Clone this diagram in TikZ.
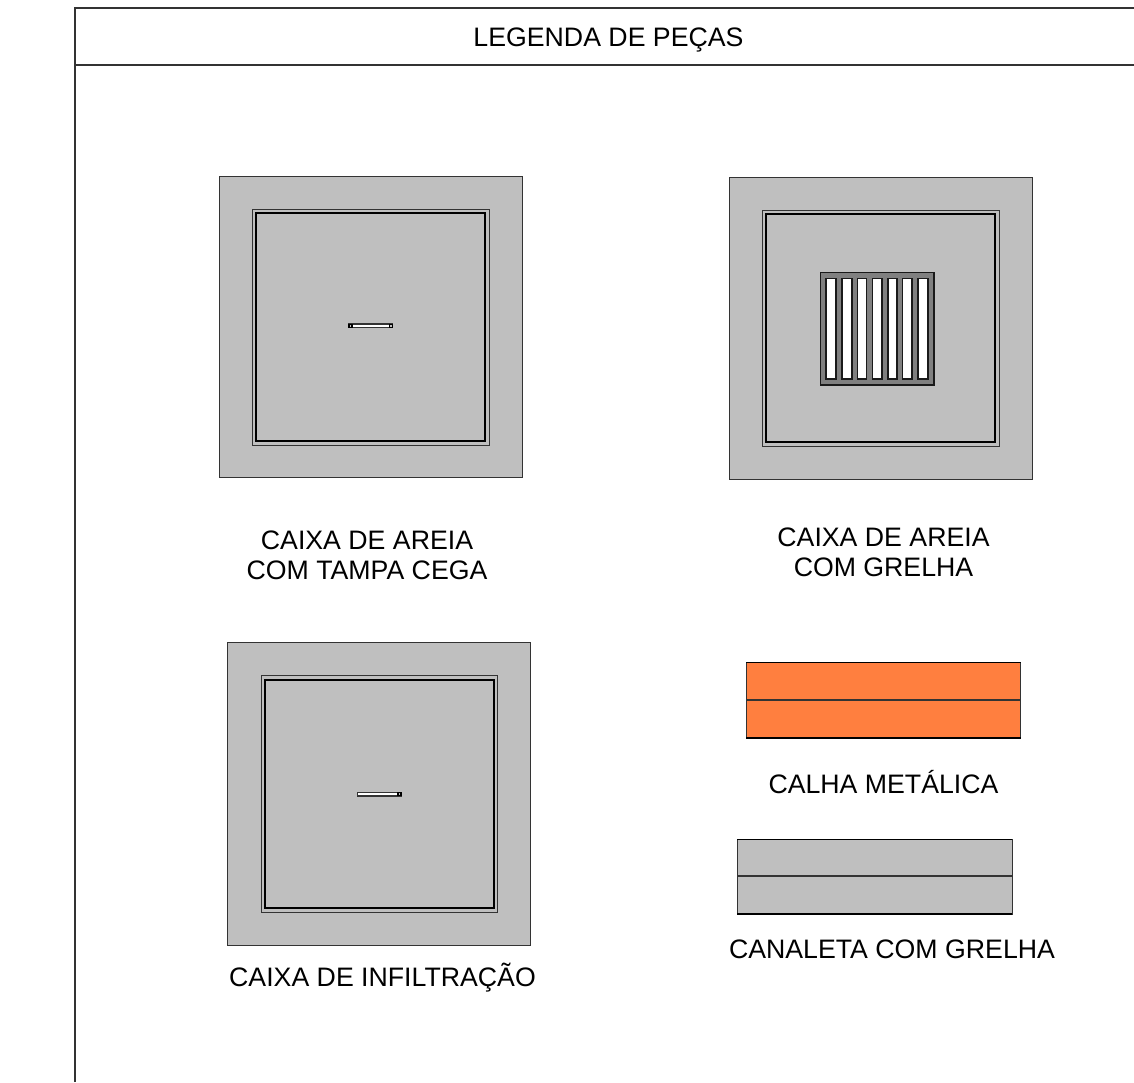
\documentclass[tikz,border=0pt]{standalone}
\usepackage{fontspec}
\setmainfont{Liberation Sans}
\definecolor{boxgray}{HTML}{BFBFBF}
\definecolor{grategray}{HTML}{808080}
\definecolor{calha}{HTML}{FF7F3F}
\definecolor{ink}{HTML}{1A1A1A}
\definecolor{soft}{HTML}{333333}
\tikzset{
  frameline/.style={draw=soft,line width=1.3pt},
  slab/.style={draw=soft,fill=boxgray,line width=.9pt},
  thinrim/.style={draw=soft,line width=.9pt},
  thickrim/.style={draw=black,line width=2.6pt},
  grate/.style={draw=ink,fill=grategray,line width=1.3pt},
  slot/.style={draw=ink,fill=white,line width=1.2pt},
  handle/.style={draw=soft,fill=white,line width=1.6pt},
  handleend/.style={draw=black,fill=boxgray,line width=1.1pt},
  midline/.style={draw=soft,line width=1.2pt},
  edgeheavy/.style={draw=black,line width=2pt},
  lbl/.style={align=center,anchor=base,font=\fontsize{26.7}{31}\selectfont,inner sep=0pt,text=black}
}
\begin{document}
\begin{tikzpicture}[x=1pt,y=-1pt]
\useasboundingbox[fill=white] (0,0) rectangle (1134,1082);
% frame
\draw[frameline] (75,1082) -- (75,8) -- (1134,8);
\draw[frameline] (75,65) -- (1134,65);
\node[lbl] (title) at (608.5,46) {LEGENDA DE PEÇAS};
% box 1
\draw[slab] (219,176) rectangle (522,477);
\draw[thinrim] (252,209) rectangle (489,445);
\draw[thickrim] (256,213) rectangle (485,441);
\draw[handle] (349,324) rectangle (392.5,327.5);
\draw[handleend] (349,324.2) rectangle (352,327.3);
\draw[handleend] (389.5,324.2) rectangle (392.5,327.3);
\node[lbl] (lblA) at (367,549) {CAIXA DE AREIA};
\node[lbl] (lblA2) at (367,579) {COM TAMPA CEGA};
% box 2
\draw[slab] (729,177) rectangle (1032,479);
\draw[thinrim] (762,210) rectangle (999,446);
\draw[thickrim] (766,214) rectangle (995,442);
\draw[grate] (820.5,272.5) rectangle (934,385);
\foreach \xa/\xb in {826/836,842/852,857.5/866.5,872.5/882,888/897,902.5/912,918/928}
  \draw[slot] (\xa,278.5) rectangle (\xb,379);
\node[lbl] (lblB) at (883.5,546) {CAIXA DE AREIA};
\node[lbl] (lblB2) at (883.5,576) {COM GRELHA};
% box 3
\draw[slab] (227,642) rectangle (530.5,945);
\draw[thinrim] (261,675) rectangle (497.5,912);
\draw[thickrim] (265,680) rectangle (494,908);
\draw[handle] (357.5,792.5) rectangle (401,796);
\draw[handleend] (398,792.7) rectangle (401,795.8);
\node[lbl] (lblC) at (382.5,986) {CAIXA DE INFILTRAÇÃO};
% calha
\draw[slab,fill=calha] (746,662.5) rectangle (1020.5,738);
\draw[midline] (746,700) -- (1020.5,700);
\draw[edgeheavy] (746,738) -- (1020.5,738);
\draw[edgeheavy,line width=1.4pt] (746,662.5) -- (1020.5,662.5);
\node[lbl] (lblD) at (883.5,793) {CALHA METÁLICA};
% canaleta
\draw[slab] (737,839.5) rectangle (1012,914);
\draw[midline] (737,876) -- (1012,876);
\draw[edgeheavy] (737,914) -- (1012,914);
\draw[edgeheavy,line width=1.6pt] (737,839.5) -- (1012,839.5);
\node[lbl] (lblE) at (892,958.5) {CANALETA COM GRELHA};
\end{tikzpicture}
\end{document}
